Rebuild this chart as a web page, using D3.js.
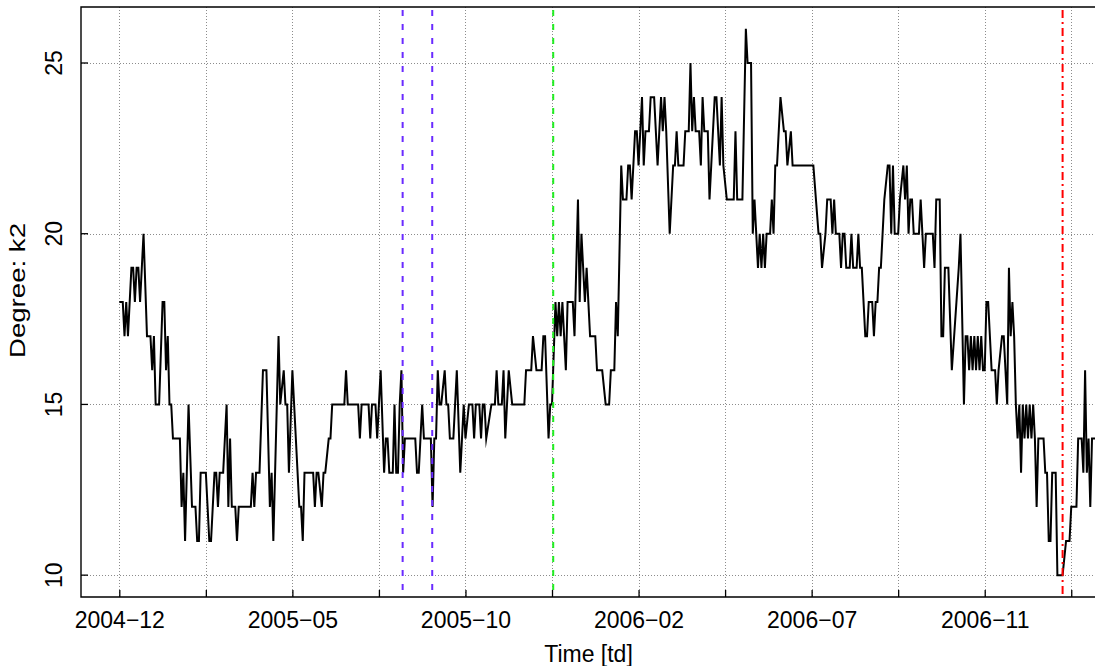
<!DOCTYPE html>
<html><head><meta charset="utf-8">
<script src="https://cdn.jsdelivr.net/npm/d3@7"></script>
<style>
body{margin:0;background:#fff}
svg{display:block}
text{font-family:"Liberation Sans",Arial,Helvetica,sans-serif;fill:#000}
</style>
</head><body>
<svg id="chart" width="1095" height="666"></svg>
<script>
// ---- data (trading-day index, degree k2) ----
const dayIndex = [
0,2,3,4,5,7,8,9,10,11,12,14,16,18,19,20,21,23,25,26,27,28,29,30,31,35,36,37,38,40,42,44,45,46,47,50,52,53,55,56,57,58,60,62,63,64,65,67,68,69,76,77,78,79,81,83,85,87,88,89,92,93,95,96,97,98,100,104,105,106,107,112,113,114,115,117,118,119,121,122,123,130,131,132,138,139,140,144,145,146,148,149,151,153,154,155,156,158,159,160,161,162,163,164,165,171,172,173,174,175,176,180,181,182,183,184,
185,186,188,189,190,191,193,195,197,199,200,202,204,205,206,208,209,210,211,212,215,217,218,219,221,222,223,224,225,227,234,235,238,239,241,244,245,246,248,249,250,252,253,254,255,256,257,258,259,262,263,265,266,267,269,270,272,275,276,279,281,283,284,286,287,288,290,
291,293,294,295,296,297,298,299,300,301,302,303,304,306,307,309,311,313,314,315,316,318,320,321,322,323,326,327,329,330,331,332,333,335,336,337,338,340,341,342,344,345,347,348,349,351,355,356,357,360,362,363,365,366,367,369,
370,371,372,373,374,376,377,378,379,380,382,384,385,386,388,389,401,404,405,406,408,409,411,412,413,414,416,417,418,419,420,422,423,424,426,427,428,429,431,432,433,435,436,437,438,439,440,442,444,445,446,447,448,450,451,453,454,455,456,457,458,459,462,463,464,465,466,470,471,472,474,475,476,477,479,481,485,486,488,489,490,491,492,493,494,495,496,497,498,499,500,501,502,504,506,507,508,510,511,512,513,514,515,516,517,518,519,520,521,522,523,524,525,526,527,528,529,530,531,534,535,536,537,538,539,541,542,545,547,549,550,553,554,556,557,558,559,560,561,562,563,564
];
const degree = [
18,18,17,18,17,19,19,18,19,19,18,20,17,17,16,17,15,15,18,18,16,17,15,15,14,14,12,13,11,15,12,12,11,11,13,13,11,11,13,13,12,13,13,15,12,14,12,12,11,12,12,13,12,13,13,16,16,12,13,11,17,15,16,15,15,13,16,12,12,11,13,13,12,13,13,12,13,13,14,14,15,15,16,15,15,14,15,15,14,15,15,14,16,13,14,14,13,13,15,13,13,15,16,13,14,14,13,13,14,15,14,14,12,14,14,16,
15,15,16,15,15,14,14,16,13,15,14,15,15,14,15,15,14,15,15,14,15,15,16,15,15,16,14,15,16,15,15,16,16,17,16,16,17,17,14,15,15,18,17,18,17,18,17,16,18,18,17,21,18,20,18,19,17,17,16,16,15,15,16,16,18,17,22,
21,21,22,22,21,22,23,23,22,23,24,22,23,23,24,24,22,24,23,24,23,20,22,22,23,22,22,23,23,25,23,24,23,23,22,24,23,23,21,22,24,24,22,24,22,21,21,23,21,21,26,25,25,20,21,19,
20,19,20,19,20,20,21,20,22,22,24,23,23,22,23,22,22,20,20,19,20,21,21,20,21,20,20,19,20,20,19,19,20,19,19,20,19,19,17,17,18,18,17,18,18,19,19,21,22,22,20,22,20,20,21,22,21,22,20,21,21,20,20,21,20,19,20,20,19,21,21,17,17,19,19,16,19,20,15,17,17,16,17,16,17,16,17,16,17,16,16,18,18,16,16,15,16,17,17,16,15,19,17,18,17,15,14,15,13,15,14,15,14,15,14,15,14,12,14,14,13,13,11,11,13,13,10,10,11,11,12,12,14,14,13,16,13,14,12,14,14,14
];
const xTickValues = [0,50,100,150,200,250,300,350,400,450,500,550];
const xTickLabels = ["2004\u221212","","2005\u221205","","2005\u221210","","2006\u221202","","2006\u221207","","2006\u221211",""];
const yTickValues = [10,15,20,25];
const blueEvents = [163.7,180.8];
const greenEvents = [250.7];
const redEvents = [545.0];

// ---- layout ----
const svg = d3.select("#chart");
const L = 81, R = 1096, T = 7, B = 597;
const x = d3.scaleLinear().domain([-22.13, 564.3]).range([L, R]);
const y = d3.scaleLinear().domain([9.36, 26.64]).range([B, T]);

const defs = svg.append("defs");
defs.append("clipPath").attr("id","clip").append("rect")
  .attr("x",L).attr("y",T).attr("width",R-L).attr("height",B-T);

// grid
const grid = svg.append("g").attr("stroke","#8c8c8c").attr("stroke-width",1).attr("stroke-dasharray","1,2");
grid.selectAll("line.v").data(xTickValues).join("line")
  .attr("x1",d=>Math.round(x(d))+0.5).attr("x2",d=>Math.round(x(d))+0.5)
  .attr("y1",T).attr("y2",B);
grid.selectAll("line.h").data(yTickValues).join("line")
  .attr("y1",d=>Math.round(y(d))+0.5).attr("y2",d=>Math.round(y(d))+0.5)
  .attr("x1",L).attr("x2",R);

// data line
const pts = dayIndex.map((d,i)=>[d,degree[i]]);
svg.append("path").datum(pts)
  .attr("clip-path","url(#clip)")
  .attr("fill","none").attr("stroke","#000").attr("stroke-width",2)
  .attr("stroke-linejoin","miter").attr("stroke-miterlimit",10)
  .attr("d", d3.line().x(d=>x(d[0])).y(d=>y(d[1])));

// event lines
function events(arr, color, dash){
  svg.append("g").selectAll("line").data(arr).join("line")
    .attr("x1",d=>x(d)).attr("x2",d=>x(d)).attr("y1",T+3).attr("y2",B)
    .attr("stroke",color).attr("stroke-width",2).attr("stroke-dasharray",dash);
}
events(blueEvents,"#6a2bff","6,8");
events(greenEvents,"#22ee22","6,8");
events(redEvents,"#ff0000","8,4,2,4");

// axes
const xAxis = d3.axisBottom(x).tickValues(xTickValues)
  .tickFormat((d,i)=>xTickLabels[i]).tickSizeInner(-7).tickSizeOuter(0).tickPadding(15);
const gx = svg.append("g").attr("transform",`translate(0,${B})`).call(xAxis);
gx.select(".domain").remove();
gx.selectAll("line").attr("stroke","#000").attr("stroke-width",1.3);
gx.selectAll("text").attr("font-size",23).attr("font-family","Liberation Sans, Arial, sans-serif");

const gy = svg.append("g");
gy.selectAll("line").data(yTickValues).join("line")
  .attr("x1",L).attr("x2",L+7).attr("y1",d=>y(d)).attr("y2",d=>y(d))
  .attr("stroke","#000").attr("stroke-width",1.3);
gy.selectAll("text").data(yTickValues).join("text")
  .attr("transform",d=>`translate(61.5,${y(d)}) rotate(-90)`)
  .attr("text-anchor","middle").attr("font-size",23).text(d=>d);

// frame (left, top, bottom)
svg.append("path").attr("fill","none").attr("stroke","#000").attr("stroke-width",1.4)
  .attr("d",`M${R},${T}H${L}V${B}H${R}`);

// axis titles
svg.append("text").attr("x",(L+R)/2).attr("y",661.5).attr("text-anchor","middle")
  .attr("font-size",23).text("Time [td]");
svg.append("text").attr("transform",`translate(25,358) rotate(-90)`)
  .attr("text-anchor","start").attr("font-size",22)
  .attr("textLength",135).attr("lengthAdjust","spacingAndGlyphs").text("Degree: k2");
</script>
</body></html>
